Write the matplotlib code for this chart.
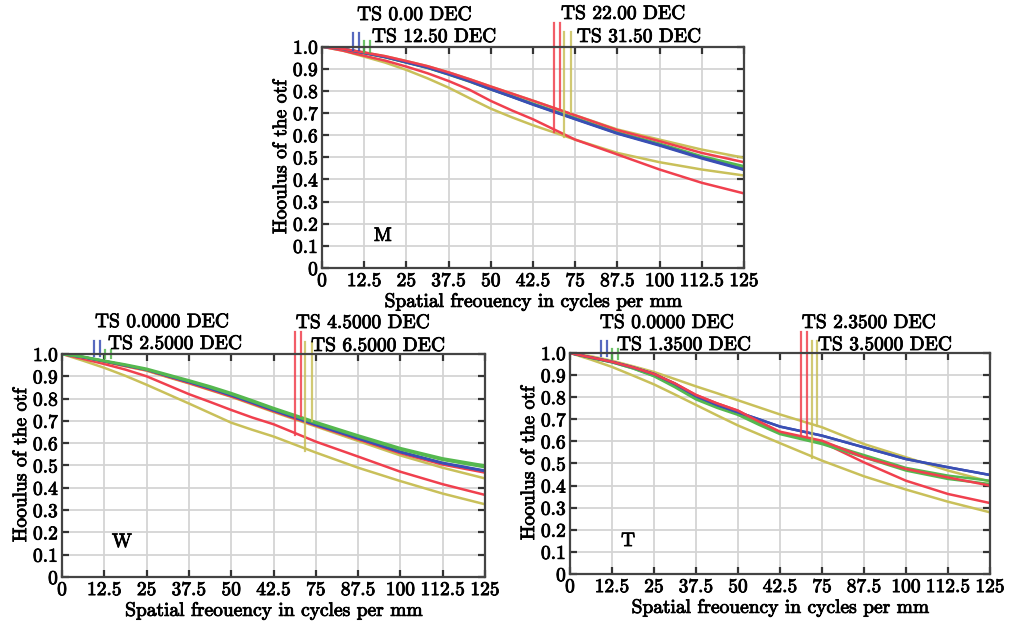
import matplotlib
matplotlib.use("Agg")
import matplotlib.pyplot as plt
import matplotlib.patheffects as pe

# ---------------- data ----------------
freq = [0, 6.25, 12.5, 18.75, 25, 31.25, 37.5, 43.75, 50, 56.25, 62.5, 75, 87.5, 100, 112.5, 125]
x_ticks = [0, 12.5, 25, 37.5, 50, 62.5, 75, 87.5, 100, 112.5, 125]
x_tick_labels = ["0", "12.5", "25", "37.5", "50", "42.5", "75", "87.5", "100", "112.5", "125"]
y_ticks = [0, 0.1, 0.2, 0.3, 0.4, 0.5, 0.6, 0.7, 0.8, 0.9, 1.0]
y_tick_labels = ["0", "0.1", "0.2", "0.3", "0.4", "0.5", "0.6", "0.7", "0.8", "0.9", "1.0"]

# Panel M
m_blue_t = [1.0, 0.99, 0.972, 0.953, 0.929, 0.905, 0.875, 0.843, 0.807, 0.773, 0.738, 0.672, 0.607, 0.553, 0.495, 0.443]
m_blue_s = [1.0, 0.99, 0.972, 0.954, 0.930, 0.907, 0.877, 0.845, 0.809, 0.775, 0.740, 0.674, 0.609, 0.556, 0.498, 0.446]
m_green_t = [1.0, 0.99, 0.972, 0.953, 0.930, 0.906, 0.877, 0.845, 0.810, 0.777, 0.743, 0.678, 0.613, 0.562, 0.505, 0.460]
m_green_s = [1.0, 0.99, 0.971, 0.952, 0.928, 0.904, 0.874, 0.842, 0.807, 0.774, 0.740, 0.675, 0.610, 0.557, 0.500, 0.450]
m_red_t = [1.0, 0.99, 0.974, 0.957, 0.935, 0.912, 0.884, 0.853, 0.820, 0.788, 0.756, 0.690, 0.623, 0.573, 0.520, 0.478]
m_red_s = [1.0, 0.982, 0.959, 0.937, 0.910, 0.880, 0.845, 0.805, 0.755, 0.712, 0.672, 0.580, 0.513, 0.445, 0.385, 0.337]
m_yel_t = [1.0, 0.99, 0.974, 0.957, 0.935, 0.912, 0.884, 0.853, 0.820, 0.788, 0.756, 0.690, 0.626, 0.580, 0.535, 0.498]
m_yel_s = [1.0, 0.982, 0.955, 0.928, 0.895, 0.857, 0.815, 0.767, 0.720, 0.681, 0.645, 0.580, 0.520, 0.478, 0.445, 0.418]

# Panel W
w_blue_t = [1.0, 0.986, 0.968, 0.949, 0.930, 0.902, 0.875, 0.846, 0.815, 0.782, 0.748, 0.683, 0.622, 0.560, 0.510, 0.475]
w_blue_s = [1.0, 0.986, 0.968, 0.949, 0.930, 0.902, 0.875, 0.846, 0.815, 0.782, 0.748, 0.683, 0.622, 0.562, 0.512, 0.477]
w_green_t = [1.0, 0.988, 0.970, 0.953, 0.934, 0.908, 0.882, 0.855, 0.825, 0.792, 0.758, 0.695, 0.635, 0.578, 0.532, 0.500]
w_green_s = [1.0, 0.987, 0.968, 0.950, 0.930, 0.904, 0.878, 0.850, 0.820, 0.787, 0.753, 0.690, 0.630, 0.572, 0.525, 0.492]
w_red_t = [1.0, 0.985, 0.965, 0.946, 0.927, 0.898, 0.870, 0.840, 0.810, 0.777, 0.743, 0.679, 0.617, 0.555, 0.504, 0.468]
w_red_s = [1.0, 0.978, 0.955, 0.930, 0.900, 0.860, 0.820, 0.785, 0.749, 0.715, 0.685, 0.607, 0.540, 0.472, 0.416, 0.368]
w_yel_t = [1.0, 0.985, 0.965, 0.945, 0.925, 0.896, 0.868, 0.838, 0.808, 0.774, 0.740, 0.675, 0.610, 0.545, 0.490, 0.442]
w_yel_s = [1.0, 0.970, 0.938, 0.902, 0.862, 0.820, 0.778, 0.735, 0.692, 0.660, 0.630, 0.558, 0.490, 0.430, 0.374, 0.326]

# Panel T
t_blue_t = [1.0, 0.980, 0.960, 0.935, 0.905, 0.860, 0.805, 0.765, 0.732, 0.700, 0.667, 0.626, 0.573, 0.520, 0.483, 0.448]
t_blue_s = [1.0, 0.980, 0.960, 0.935, 0.905, 0.860, 0.805, 0.765, 0.732, 0.700, 0.667, 0.626, 0.573, 0.520, 0.483, 0.448]
t_green_t = [1.0, 0.978, 0.958, 0.930, 0.895, 0.845, 0.790, 0.752, 0.720, 0.675, 0.633, 0.588, 0.528, 0.468, 0.430, 0.407]
t_green_s = [1.0, 0.978, 0.958, 0.931, 0.897, 0.850, 0.795, 0.757, 0.725, 0.680, 0.640, 0.596, 0.538, 0.480, 0.445, 0.422]
t_red_t = [1.0, 0.980, 0.960, 0.935, 0.905, 0.862, 0.810, 0.772, 0.739, 0.690, 0.644, 0.603, 0.528, 0.475, 0.437, 0.400]
t_red_s = [1.0, 0.980, 0.960, 0.935, 0.905, 0.862, 0.810, 0.772, 0.739, 0.688, 0.640, 0.596, 0.505, 0.422, 0.362, 0.321]
t_yel_t = [1.0, 0.985, 0.965, 0.940, 0.914, 0.882, 0.849, 0.818, 0.786, 0.754, 0.722, 0.664, 0.588, 0.528, 0.468, 0.418]
t_yel_s = [1.0, 0.970, 0.937, 0.898, 0.858, 0.812, 0.765, 0.718, 0.672, 0.632, 0.592, 0.513, 0.442, 0.382, 0.327, 0.279]

# legend labels (field angles)
m_fields = ["TS 0.00 DEC", "TS 12.50 DEC", "TS 22.00 DEC", "TS 31.50 DEC"]
w_fields = ["TS 0.0000 DEC", "TS 2.5000 DEC", "TS 4.5000 DEC", "TS 6.5000 DEC"]
t_fields = ["TS 0.0000 DEC", "TS 1.3500 DEC", "TS 2.3500 DEC", "TS 3.5000 DEC"]
panel_names = ["M", "W", "T"]

# legend tick marks: (x pair, top, bottom of each)
m_marks = {"blue": ([9.2, 11.0], 1.062, [0.985, 0.985]),
           "green": ([12.4, 14.2], 1.026, [0.976, 0.976]),
           "red": ([68.7, 70.5], 1.107, [0.615, 0.72]),
           "yel": ([71.7, 73.8], 1.066, [0.594, 0.707])}
w_marks = {"blue": ([9.5, 11.2], 1.058, [0.99, 0.99]),
           "green": ([12.7, 14.5], 1.018, [0.98, 0.98]),
           "red": ([68.9, 70.6], 1.099, [0.637, 0.72]),
           "yel": ([71.8, 73.9], 1.054, [0.565, 0.70])}
t_marks = {"blue": ([9.2, 11.0], 1.054, [0.985, 0.985]),
           "green": ([12.5, 14.3], 1.018, [0.975, 0.975]),
           "red": ([68.8, 70.5], 1.096, [0.63, 0.62]),
           "yel": ([72.0, 73.5], 1.054, [0.523, 0.671])}

# ---------------- styling ----------------
C = {"blue": "#3a4fb4", "green": "#55b84f", "red": "#f0404e", "yel": "#c9c05a"}
plt.rcParams["font.family"] = ["cmr10", "DejaVu Serif"]
plt.rcParams["axes.formatter.use_mathtext"] = True
FS = 14
BOLD = [pe.withStroke(linewidth=0.6, foreground="black")]

fig = plt.figure(figsize=(10.2, 6.26), dpi=100)

panels = [
    dict(rect=[0.3157, 0.5719, 0.4137, 0.3535], name="M", fields=m_fields, marks=m_marks,
         curves=[("yel", m_yel_s), ("red", m_red_s), ("yel", m_yel_t), ("green", m_green_s),
                 ("green", m_green_t), ("blue", m_blue_s), ("blue", m_blue_t), ("red", m_red_t)],
         text_pos=[(10.4, 1.143), (14.8, 1.044), (70.8, 1.148), (75.5, 1.044)],
         name_pos=(18.0, 0.145)),
    dict(rect=[0.0608, 0.0783, 0.4147, 0.3562], name="W", fields=w_fields, marks=w_marks,
         curves=[("yel", w_yel_s), ("red", w_red_s), ("yel", w_yel_t), ("red", w_red_t),
                 ("blue", w_blue_s), ("blue", w_blue_t), ("green", w_green_s), ("green", w_green_t)],
         text_pos=[(9.75, 1.143), (13.6, 1.045), (69.1, 1.139), (73.6, 1.036)],
         name_pos=(17.7, 0.157)),
    dict(rect=[0.5588, 0.0831, 0.4118, 0.3530], name="T", fields=t_fields, marks=t_marks,
         curves=[("yel", t_yel_s), ("yel", t_yel_t), ("red", t_red_s), ("green", t_green_s),
                 ("green", t_green_t), ("blue", t_blue_s), ("blue", t_blue_t), ("red", t_red_t)],
         text_pos=[(8.9, 1.136), (14.0, 1.036), (69.0, 1.136), (73.8, 1.036)],
         name_pos=(17.3, 0.149)),
]

for p in panels:
    ax = fig.add_axes(p["rect"])
    ax.set_xlim(0, 125)
    ax.set_ylim(0, 1.0)
    ax.set_xticks(x_ticks)
    ax.set_xticklabels(x_tick_labels, fontsize=FS)
    ax.set_yticks(y_ticks)
    ax.set_yticklabels(y_tick_labels, fontsize=FS)
    for lab in ax.get_xticklabels() + ax.get_yticklabels():
        lab.set_path_effects(BOLD)
    ax.grid(True, color="#d4d4d4", linewidth=1.3)
    ax.set_axisbelow(True)
    ax.tick_params(direction="in", length=5, width=1.6, color="#333333",
                   top=True, right=True, pad=3)
    for s in ax.spines.values():
        s.set_color("#444444")
        s.set_linewidth(1.6)
    for col, ys in p["curves"]:
        ax.plot(freq, ys, color=C[col], lw=1.8, solid_capstyle="round")
    for col, (xs, top, bots) in p["marks"].items():
        for xv, bv in zip(xs, bots):
            ax.plot([xv, xv], [bv, top], color=C[col], lw=1.6, clip_on=False, alpha=0.85)
    for txt, (tx, ty) in zip(p["fields"], p["text_pos"]):
        ax.text(tx, ty, txt, fontsize=FS, ha="left", va="center", clip_on=False,
                path_effects=BOLD)
    ax.text(p["name_pos"][0], p["name_pos"][1], p["name"], fontsize=FS, ha="center",
            va="center", path_effects=BOLD)
    ax.set_xlabel("Spatial freouency in cycles per mm", fontsize=FS, labelpad=2,
                  path_effects=BOLD)
    ax.set_ylabel("Hooulus of the otf", fontsize=FS, labelpad=2, path_effects=BOLD)

fig.savefig("out.png", dpi=100)
